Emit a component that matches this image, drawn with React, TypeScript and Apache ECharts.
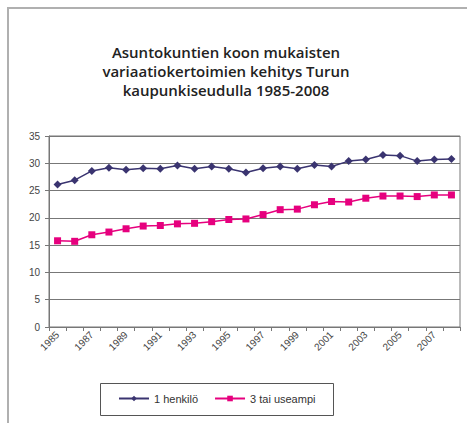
import React, { useEffect, useRef } from "react";
import * as echarts from "echarts";

const years = [
  "1985", "1986", "1987", "1988", "1989", "1990", "1991", "1992", "1993", "1994", "1995", "1996",
  "1997", "1998", "1999", "2000", "2001", "2002", "2003", "2004", "2005", "2006", "2007", "2008",
];
const oneperson = [
  26.1, 26.9, 28.6, 29.2, 28.8, 29.1, 29.0, 29.6, 29.0, 29.4, 29.0, 28.3,
  29.1, 29.4, 29.0, 29.7, 29.4, 30.4, 30.7, 31.5, 31.4, 30.4, 30.7, 30.8,
];
const threeplus = [
  15.8, 15.7, 16.9, 17.4, 18.0, 18.5, 18.6, 18.9, 19.0, 19.3, 19.7, 19.8,
  20.6, 21.5, 21.6, 22.4, 23.0, 22.9, 23.6, 24.0, 24.0, 23.9, 24.2, 24.2,
];
const seriesNames = ["1 henkilö", "3 tai useampi"];
const titleText = "Asuntokuntien koon mukaisten\nvariaatiokertoimien kehitys Turun\nkaupunkiseudulla 1985-2008";

export default function App() {
  const ref = useRef<HTMLDivElement>(null);
  useEffect(() => {
    const chart = echarts.init(ref.current!, null, { renderer: "svg" });
    chart.setOption({
      animation: false,
      backgroundColor: "#fff",
      title: {
        text: titleText,
        left: 221,
        top: 37,
        textAlign: "center",
        textStyle: {
          fontFamily: "Open Sans",
          fontWeight: 600,
          fontSize: 15,
          lineHeight: 19,
          color: "#222",
        },
      },
      graphic: [
        {
          type: "polyline",
          shape: { points: [[8, 423], [8, 8], [467, 8]] },
          style: { stroke: "#b0b0b0", lineWidth: 2, fill: "none" },
          silent: true,
        },
        {
          type: "rect",
          shape: { x: 100.5, y: 383.5, width: 233, height: 32 },
          style: { stroke: "#555", lineWidth: 1, fill: "none" },
          silent: true,
        },
      ],
      legend: {
        left: 118,
        top: 393,
        itemWidth: 30,
        itemHeight: 7,
        itemGap: 16,
        padding: 0,
        textStyle: { fontFamily: "Liberation Sans", fontSize: 11, color: "#333" },
        data: seriesNames,
      },
      grid: { left: 49, right: 7, top: 136, bottom: 96, show: true, borderColor: "#777", borderWidth: 1 },
      xAxis: {
        type: "category",
        data: years,
        boundaryGap: true,
        axisLine: { lineStyle: { color: "#777" } },
        axisTick: { show: true, interval: 0, length: 4, lineStyle: { color: "#777" } },
        axisLabel: {
          interval: 1,
          rotate: 45,
          margin: 6,
          fontFamily: "Liberation Sans",
          fontSize: 10,
          color: "#444",
        },
      },
      yAxis: {
        type: "value",
        min: 0,
        max: 35,
        interval: 5,
        axisLine: { show: true, lineStyle: { color: "#777" } },
        axisTick: { show: true, length: 4, lineStyle: { color: "#777" } },
        axisLabel: { margin: 9, fontFamily: "Liberation Sans", fontSize: 10, color: "#444" },
        splitLine: { lineStyle: { color: "#777", width: 1 } },
      },
      series: [
        {
          name: seriesNames[0],
          type: "line",
          data: oneperson,
          symbol: "diamond",
          symbolSize: 8,
          lineStyle: { color: "#3a3470", width: 1.5 },
          itemStyle: { color: "#3a3470" },
        },
        {
          name: seriesNames[1],
          type: "line",
          data: threeplus,
          symbol: "rect",
          symbolSize: 7,
          lineStyle: { color: "#e6007e", width: 1.5 },
          itemStyle: { color: "#e6007e" },
        },
      ],
    });
    return () => chart.dispose();
  }, []);
  return <div ref={ref} style={{ position: "fixed", left: 0, top: 0, width: 467, height: 423 }} />;
}
